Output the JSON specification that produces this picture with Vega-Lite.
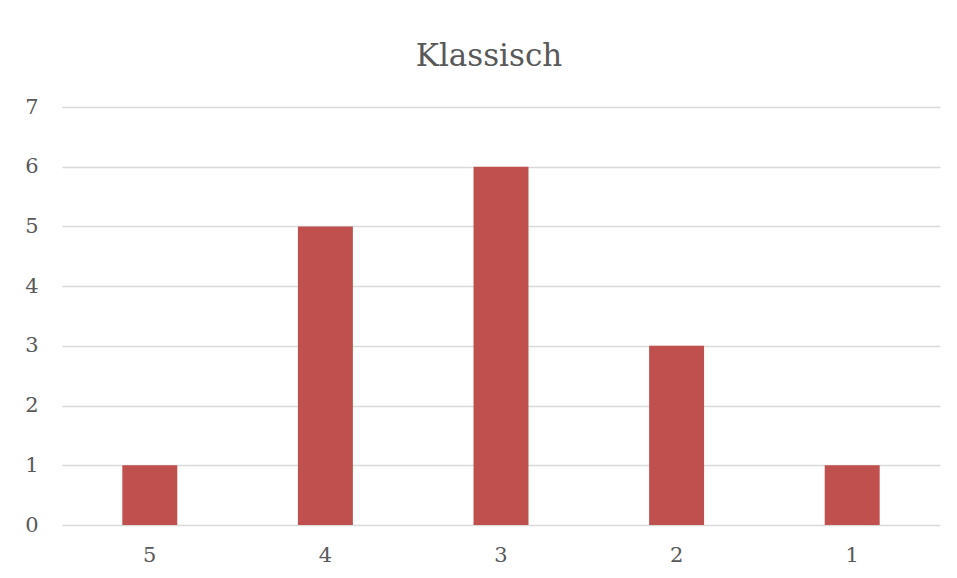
{
  "$schema": "https://vega.github.io/schema/vega-lite/v6.json",
  "width": 878,
  "height": 418,
  "autosize": {"type": "none"},
  "padding": {"left": 62, "top": 107, "right": 17, "bottom": 53},
  "background": "white",
  "title": {
    "text": "Klassisch",
    "font": "DejaVu Serif",
    "fontSize": 31,
    "fontWeight": "normal",
    "color": "#595959",
    "anchor": "middle",
    "dx": -12,
    "offset": 23
  },
  "data": {
    "values": [
      {"rating": "5", "count": 1},
      {"rating": "4", "count": 5},
      {"rating": "3", "count": 6},
      {"rating": "2", "count": 3},
      {"rating": "1", "count": 1}
    ]
  },
  "mark": {"type": "bar", "color": "#C0504D"},
  "encoding": {
    "x": {
      "field": "rating",
      "type": "nominal",
      "sort": ["5", "4", "3", "2", "1"],
      "scale": {"paddingInner": 0.687, "paddingOuter": 0.3435},
      "axis": {
        "title": null,
        "labelAngle": 0,
        "domain": false,
        "ticks": false,
        "labelPadding": 19,
        "labelFont": "DejaVu Serif",
        "labelFontSize": 21,
        "labelColor": "#595959"
      }
    },
    "y": {
      "field": "count",
      "type": "quantitative",
      "scale": {"domain": [0, 7]},
      "axis": {
        "title": null,
        "values": [0, 1, 2, 3, 4, 5, 6, 7],
        "domain": false,
        "ticks": false,
        "labelPadding": 24,
        "labelFont": "DejaVu Serif",
        "labelFontSize": 21,
        "labelColor": "#595959",
        "gridColor": "#D9D9D9",
        "gridWidth": 1.5
      }
    }
  },
  "config": {"view": {"stroke": null}}
}
